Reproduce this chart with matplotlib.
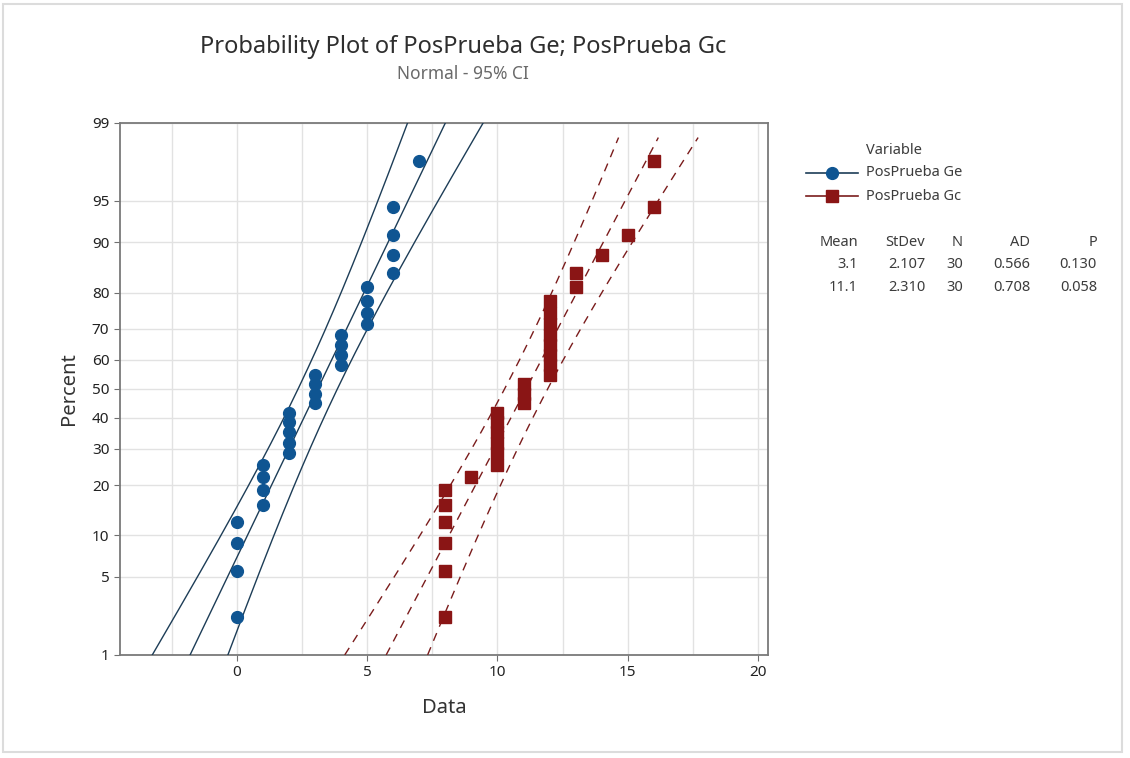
import numpy as np
import matplotlib
matplotlib.use("Agg")
import matplotlib.pyplot as plt
from matplotlib.patches import Rectangle
from statistics import NormalDist

# données (valeurs brutes, 30 par groupe)
ge = [0, 0, 0, 0, 1, 1, 1, 1, 2, 2, 2, 2, 2, 3, 3, 3, 3, 4, 4, 4, 4,
      5, 5, 5, 5, 6, 6, 6, 6, 7]
gc = [8, 8, 8, 8, 8, 8, 9, 10, 10, 10, 10, 10, 10, 11, 11, 11,
      12, 12, 12, 12, 12, 12, 12, 12, 13, 13, 14, 15, 16, 16]
noms = ["PosPrueba Ge", "PosPrueba Gc"]
stats_txt = [["3.1", "2.107", "30", "0.566", "0.130"],
             ["11.1", "2.310", "30", "0.708", "0.058"]]
entetes = ["Mean", "StDev", "N", "AD", "P"]
y_ticks = [1, 5, 10, 20, 30, 40, 50, 60, 70, 80, 90, 95, 99]
x_ticks = [0, 5, 10, 15, 20]

nd = NormalDist()
ppf = np.vectorize(lambda p: nd.inv_cdf(p), otypes=[float])
cdf = np.vectorize(lambda z: nd.cdf(z), otypes=[float])

def fwd(p):
    p = np.clip(np.asarray(p, dtype=float), 1e-6, 100 - 1e-6)
    return ppf(p / 100)

def inv(z):
    return cdf(np.asarray(z, dtype=float)) * 100

plt.rcParams['font.family'] = ['Noto Sans', 'DejaVu Sans']

fig = plt.figure(figsize=(11.3, 7.58), dpi=100)
ax = fig.add_axes([0.106, 0.136, 0.574, 0.702])
ax.set_yscale('function', functions=(fwd, inv))

couleurs = ["#0f5592", "#8a1515"]
lignes = ["#1d3d57", "#7a1c1c"]
marqueurs = ["o", "s"]
styles = ["-", (0, (6, 5))]
p_haut = [0.99, 0.986]

for k, data in enumerate([ge, gc]):
    z_line = np.linspace(nd.inv_cdf(0.01), nd.inv_cdf(p_haut[k]), 200)
    x = np.sort(np.array(data, dtype=float))
    n = len(x)
    pos = (np.arange(1, n + 1) - 0.3) / (n + 0.4) * 100
    m = x.mean()
    s = x.std(ddof=1)
    fit = m + s * z_line
    hw = 1.96 * s * np.sqrt(1 / n + z_line ** 2 / (2 * n))
    pct = cdf(z_line) * 100
    for xx in [fit - hw, fit, fit + hw]:
        ax.plot(xx, pct, color=lignes[k], lw=1.0, ls=styles[k], zorder=3)
    ax.plot(x, pos, ls="none", marker=marqueurs[k], ms=8.5,
            color=couleurs[k], mec=couleurs[k], zorder=4)

ax.set_xlim(-4.5, 20.4)
ax.set_ylim(1, 99)
ax.set_yticks(y_ticks)
ax.set_yticklabels([str(t) for t in y_ticks])
ax.yaxis.set_minor_locator(matplotlib.ticker.NullLocator())
ax.set_xticks(x_ticks)
ax.set_xticks(np.arange(-2.5, 20.1, 2.5), minor=True)
ax.grid(True, which="both", color="#e2e2e2", lw=1.0, zorder=0)
ax.tick_params(which="minor", length=0)
ax.tick_params(which="major", length=4, color="#707070", labelsize=11,
               labelcolor="#222222")
for sp in ax.spines.values():
    sp.set_color("#7a7a7a")
    sp.set_linewidth(1.3)

ax.set_xlabel("Data", fontsize=14.5, color="#333333", labelpad=13)
ax.set_ylabel("Percent", fontsize=14.5, color="#333333", labelpad=9)

fig.text(0.41, 0.938, "Probability Plot of PosPrueba Ge; PosPrueba Gc",
         ha="center", va="center", fontsize=17, color="#2e2e2e")
fig.text(0.41, 0.903, "Normal - 95% CI", ha="center", va="center",
         fontsize=12.5, color="#6a6a6a")

# légende
fig.text(866 / 1130, 1 - 150 / 758, "Variable", fontsize=10.5,
         color="#3c3c3c", va="center")
for k in range(2):
    yy = 1 - (173 + 23 * k) / 758
    fig.add_artist(plt.Line2D([806 / 1130, 858 / 1130], [yy, yy],
                              color=lignes[k], lw=1.2))
    fig.add_artist(plt.Line2D([832 / 1130], [yy], marker=marqueurs[k],
                              ms=8.5, color=couleurs[k], ls="none"))
    fig.text(866 / 1130, yy, noms[k], fontsize=10.5, color="#3c3c3c",
             va="center")

col_droite = [858, 925, 963, 1030, 1097]
for j, h in enumerate(entetes):
    fig.text(col_droite[j] / 1130, 1 - 242 / 758, h, ha="right",
             va="center", fontsize=10.5, color="#3c3c3c")
for i, row in enumerate(stats_txt):
    for j, v in enumerate(row):
        fig.text(col_droite[j] / 1130, 1 - (264 + 23 * i) / 758, v,
                 ha="right", va="center", fontsize=10.5, color="#3c3c3c")

fig.add_artist(Rectangle((3 / 1130, 1 - 752 / 758), 1119 / 1130, 748 / 758,
                         transform=fig.transFigure, fill=False,
                         ec="#dcdcdc", lw=1.5))

fig.savefig("out.png", dpi=100)
